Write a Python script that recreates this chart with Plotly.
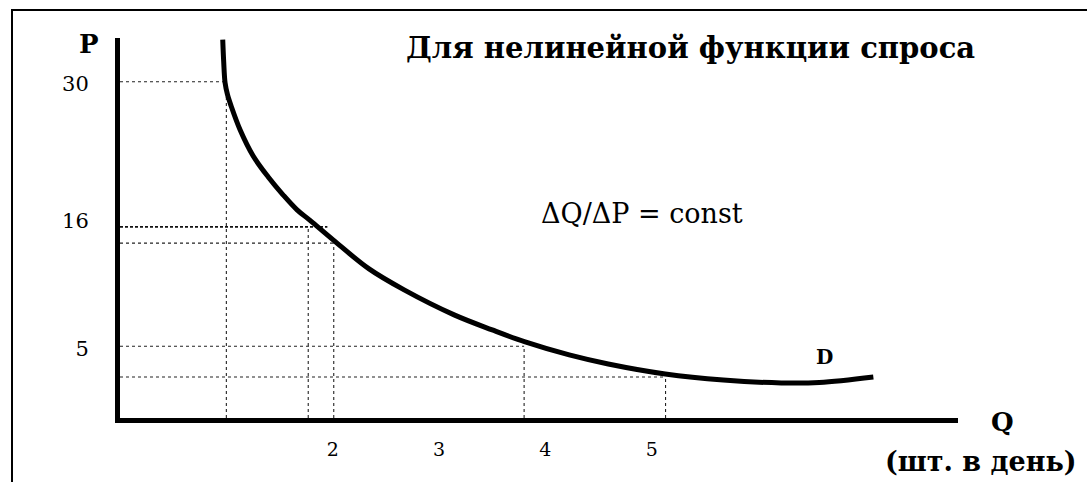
import plotly.graph_objects as go

# ---- data (schematic demand curve) ----
q_curve = [0.966, 0.975, 0.988, 1.011, 1.044, 1.129, 1.251, 1.392, 1.533, 1.665, 1.787, 2.004,
           2.342, 2.672, 3.142, 3.500, 3.810, 4.224, 4.591, 5.127, 5.673, 6.218, 6.576, 7.084]
p_curve = [33.75, 31.79, 29.91, 28.84, 27.86, 25.71, 23.39, 21.52, 19.91, 18.57, 17.63, 15.89,
           13.30, 11.43, 9.20, 7.86, 6.79, 5.63, 4.82, 3.93, 3.39, 3.13, 3.17, 3.66]

h_guide_p = [30.0, 17.05, 15.6, 6.4, 3.66]
h_guide_end_q = [1.0, 1.95, 2.02, 3.80, 5.13]
v_guide_q = [1.0, 1.77, 2.01, 3.80, 5.13]
v_guide_top_p = [30.0, 17.05, 15.6, 6.4, 3.66]

x_tick_vals = [2, 3, 4, 5]
x_tick_text = ["2", "3", "4", "5"]
y_tick_vals = [29.8, 17.6, 6.2]
y_tick_text = ["30", "16", "5"]

title_text = "Для нелинейной функции спроса"
formula_text = "ΔQ/ΔP = const"
units_text = "(шт. в день)"

X_MAX = 7.88
Y_MAX = 33.9
SERIF = "DejaVu Serif"

W, H = 1087, 482
L, R, T, B = 120, 129, 38, 64
pw, ph = W - L - R, H - T - B
def px(xp): return (xp - L) / pw
def py(yp): return (H - B - yp) / ph

fig = go.Figure()

# guide lines (dotted)
hx, hy = [], []
for p, qe in zip(h_guide_p, h_guide_end_q):
    if p == 17.05:
        continue
    hx += [0, qe, None]
    hy += [p, p, None]
for q, pt in zip(v_guide_q, v_guide_top_p):
    hx += [q, q, None]
    hy += [0, pt, None]
fig.add_trace(go.Scatter(x=hx, y=hy, mode="lines",
                         line=dict(color="#222", width=1.1, dash="dot"),
                         hoverinfo="skip", showlegend=False))
# the denser dashed line at "16"
i16 = h_guide_p.index(17.05)
fig.add_trace(go.Scatter(x=[0, h_guide_end_q[i16]], y=[h_guide_p[i16]] * 2, mode="lines",
                         line=dict(color="#111", width=1.6, dash="3px,2px"),
                         hoverinfo="skip", showlegend=False))

# demand curve
fig.add_trace(go.Scatter(x=q_curve, y=p_curve, mode="lines",
                         line=dict(color="black", width=5, shape="spline", smoothing=1.0),
                         showlegend=False))

fig.update_xaxes(range=[0, X_MAX], showgrid=False, zeroline=False,
                 showline=True, linecolor="black", linewidth=5,
                 tickvals=x_tick_vals, ticktext=x_tick_text, ticks="",
                 ticklabelstandoff=10,
                 tickfont=dict(family=SERIF, size=19, color="black"))
fig.update_yaxes(range=[0, Y_MAX], showgrid=False, zeroline=False,
                 showline=True, linecolor="black", linewidth=5,
                 tickvals=y_tick_vals, ticktext=y_tick_text, ticks="",
                 ticklabelstandoff=22,
                 tickfont=dict(family=SERIF, size=21, color="black"))

ann = [
    dict(text=f"<b>{title_text}</b>", x=px(690), y=py(48),
         font=dict(family=SERIF, size=29, color="black")),
    dict(text=formula_text, x=px(642), y=py(213),
         font=dict(family=SERIF, size=27, color="black")),
    dict(text="<b>P</b>", x=px(89), y=py(44),
         font=dict(family=SERIF, size=26, color="black")),
    dict(text="<b>Q</b>", x=px(1002), y=py(422),
         font=dict(family=SERIF, size=26, color="black")),
    dict(text="<b>D</b>", x=px(824), y=py(357),
         font=dict(family=SERIF, size=20, color="black")),
    dict(text=f"<b>{units_text}</b>", x=px(981), y=py(461),
         font=dict(family=SERIF, size=27, color="black")),
]
for a in ann:
    a.update(showarrow=False, xanchor="center", yanchor="middle", xref="paper", yref="paper")
fig.update_layout(annotations=ann)

# scan frame (left and top borders)
fig.add_shape(type="line", xref="paper", yref="paper", x0=px(12), x1=px(12), y0=py(9), y1=py(482),
              line=dict(color="black", width=2))
fig.add_shape(type="line", xref="paper", yref="paper", x0=px(12), x1=px(1087), y0=py(10), y1=py(10),
              line=dict(color="black", width=2))

fig.update_layout(width=W, height=H, margin=dict(l=L, r=R, t=T, b=B),
                  plot_bgcolor="white", paper_bgcolor="white", showlegend=False)

fig.write_html("out.html", config={"displayModeBar": False},
               post_script="document.body.style.margin='0';document.body.style.overflow='hidden';")
